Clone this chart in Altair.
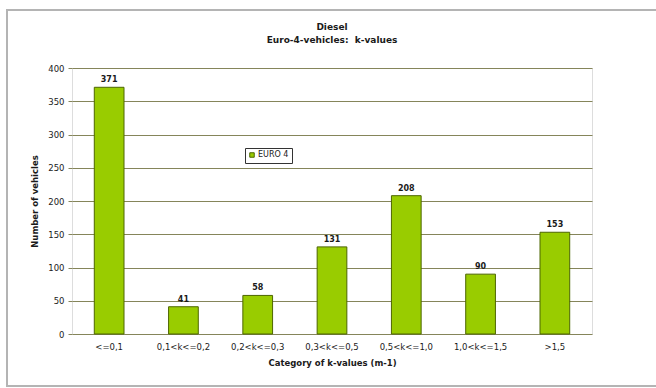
import altair as alt
import pandas as pd

# Distribution of Euro-4 diesel vehicles over k-value classes
categories = ["<=0,1", "0,1<k<=0,2", "0,2<k<=0,3", "0,3<k<=0,5",
              "0,5<k<=1,0", "1,0<k<=1,5", ">1,5"]
vehicles = [371, 41, 58, 131, 208, 90, 153]
series_name = "EURO 4"

df = pd.DataFrame({
    "category": categories,
    "vehicles": vehicles,
    "series": [series_name] * len(categories),
})

FONT = "DejaVu Sans"
GRID = "#85855a"
TEXT = "#1a1a1a"

x_enc = alt.X(
    "category:N",
    sort=categories,
    scale=alt.Scale(paddingInner=0.6, paddingOuter=0.3),
    axis=alt.Axis(
        title="Category of k-values (m-1)",
        labelAngle=0,
        ticks=False,
        domain=False,
        labelPadding=8,
        titlePadding=8,
        labelFontSize=8.5,
        labelFont=FONT,
        labelColor=TEXT,
        titleFont=FONT,
        titleFontSize=8.5,
        titleFontWeight="bold",
        titleColor=TEXT,
    ),
)
y_enc = alt.Y(
    "vehicles:Q",
    scale=alt.Scale(domain=[0, 400], nice=False),
    axis=alt.Axis(
        title="Number of vehicles",
        values=list(range(0, 401, 50)),
        labelOverlap=False,
        grid=True,
        gridColor=GRID,
        gridWidth=1,
        domain=False,
        tickSize=4,
        tickColor=GRID,
        labelPadding=4,
        titlePadding=8,
        labelFontSize=8.5,
        labelFont=FONT,
        labelColor=TEXT,
        titleFont=FONT,
        titleFontSize=8.5,
        titleFontWeight="bold",
        titleColor=TEXT,
    ),
)

bars = alt.Chart(df).mark_bar(stroke="#4d6600", strokeWidth=1).encode(
    x=x_enc,
    y=y_enc,
    color=alt.Color(
        "series:N",
        scale=alt.Scale(range=["#99CC00"]),
        legend=alt.Legend(
            title=None,
            orient="none",
            legendX=173,
            legendY=80,
            fillColor="white",
            strokeColor="#333333",
            padding=3,
            symbolType="square",
            symbolSize=20,
            symbolStrokeColor="#4d6600",
            symbolStrokeWidth=1,
            labelFont=FONT,
            labelFontSize=8,
            labelColor=TEXT,
            labelOffset=2,
        ),
    ),
)

labels = alt.Chart(df).mark_text(
    dy=-7, font=FONT, fontSize=8, fontWeight="bold", color=TEXT
).encode(
    x=x_enc,
    y=y_enc,
    text="vehicles:Q",
)

# Outer chart-area frame
frame = alt.Chart(pd.DataFrame({"f": [0]})).mark_rect(
    fill=None, stroke="#b4b4b4", strokeWidth=2
).encode(
    x=alt.value(-65), x2=alt.value(600),
    y=alt.value(-58), y2=alt.value(318),
)

chart = alt.layer(frame, bars, labels).properties(
    width=520,
    height=266,
    autosize=alt.AutoSizeParams(type="none"),
    padding={"left": 72, "top": 68, "right": 64, "bottom": 54},
    title=alt.TitleParams(
        text=["Diesel", "Euro-4-vehicles:\u00a0 k-values"],
        anchor="middle",
        frame="group",
        font=FONT,
        fontSize=9,
        fontWeight="bold",
        color=TEXT,
        lineHeight=13,
        offset=-36,
    ),
).configure_view(
    fill="#FFFF99", stroke=GRID, strokeWidth=1
).configure(background="white")

chart.save("out.html", embed_options={"renderer": "svg", "actions": False})
